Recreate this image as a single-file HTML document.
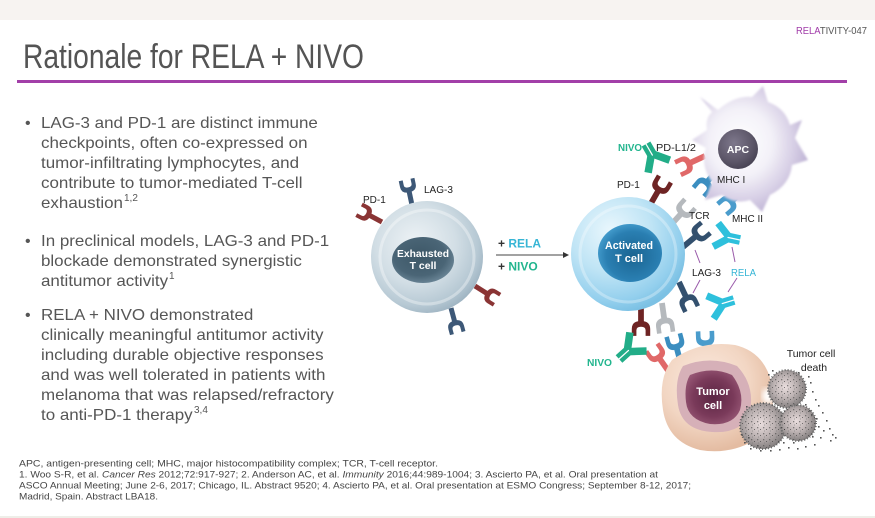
<!DOCTYPE html>
<html><head><meta charset="utf-8"><style>
html,body{margin:0;padding:0;background:#fff;}
svg{display:block;font-family:"Liberation Sans",sans-serif;}
</style></head><body>
<svg width="875" height="518" viewBox="0 0 875 518" xmlns="http://www.w3.org/2000/svg">
<defs>
<radialGradient id="exG" cx=".4" cy=".38" r=".65"><stop offset="0" stop-color="#eef3f6"/><stop offset=".55" stop-color="#d2dee5"/><stop offset=".85" stop-color="#b7c9d4"/><stop offset="1" stop-color="#a0b5c3"/></radialGradient>
<radialGradient id="exN" cx=".45" cy=".42" r=".6"><stop offset="0" stop-color="#3d5767"/><stop offset=".7" stop-color="#4a6576"/><stop offset="1" stop-color="#6a8596"/></radialGradient>
<radialGradient id="actG" cx=".35" cy=".3" r=".72"><stop offset="0" stop-color="#eaf7fd"/><stop offset=".5" stop-color="#bfe4f5"/><stop offset=".85" stop-color="#93cfed"/><stop offset="1" stop-color="#7cc1e4"/></radialGradient>
<radialGradient id="actN" cx=".55" cy=".55" r=".6"><stop offset="0" stop-color="#1a6491"/><stop offset=".7" stop-color="#2a7fb2"/><stop offset="1" stop-color="#48a1d1"/></radialGradient>
<radialGradient id="apcG" cx=".42" cy=".45" r=".6"><stop offset="0" stop-color="#ffffff"/><stop offset=".45" stop-color="#f3f1f8"/><stop offset=".75" stop-color="#d8d0e6"/><stop offset="1" stop-color="#bdb2d4"/></radialGradient>
<radialGradient id="apcN" cx=".4" cy=".35" r=".65"><stop offset="0" stop-color="#7e788c"/><stop offset=".7" stop-color="#5d5769"/><stop offset="1" stop-color="#4a4556"/></radialGradient>
<radialGradient id="tumG" cx=".4" cy=".35" r=".65"><stop offset="0" stop-color="#fbeadf"/><stop offset=".6" stop-color="#f2d6c3"/><stop offset="1" stop-color="#e4bca2"/></radialGradient>
<radialGradient id="tumN" cx=".5" cy=".5" r=".6"><stop offset="0" stop-color="#5c2644"/><stop offset=".6" stop-color="#7a3a5a"/><stop offset="1" stop-color="#9a5a78"/></radialGradient>
<radialGradient id="deadG" cx=".45" cy=".45" r=".6"><stop offset="0" stop-color="#eadede"/><stop offset=".5" stop-color="#bdb3b3"/><stop offset="1" stop-color="#7a7676"/></radialGradient>
<pattern id="spk" width="6" height="6" patternUnits="userSpaceOnUse"><rect x="1" y="1" width="1.3" height="1.3" fill="#444"/><rect x="4" y="3" width="1" height="1" fill="#333"/><rect x="2" y="4.5" width="1" height="1" fill="#777"/></pattern>
<filter id="soft"><feGaussianBlur stdDeviation="1"/></filter>
<filter id="blur3"><feGaussianBlur stdDeviation="3"/></filter>
<g id="rec">
<rect x="-2.5" y="-15" width="5" height="15"/>
<path d="M-8,-26 L-4,-26 L-4,-21 Q-4,-18 0,-18 Q4,-18 4,-21 L4,-26 L8,-26 L8,-20 Q8,-13 0,-13 Q-8,-13 -8,-20 Z"/>
</g>
<g id="ab">
<rect x="-4" y="-11" width="3.5" height="11"/>
<rect x="0.5" y="-11" width="3.5" height="11"/>
<rect x="-3" y="-14" width="6" height="14" transform="translate(-1,-10) rotate(-40)"/>
<rect x="-3" y="-14" width="6" height="14" transform="translate(1,-10) rotate(40)"/>
</g>
</defs>

<!-- background bands -->
<rect x="0" y="0" width="875" height="20" fill="#f7f3f1"/>
<rect x="0" y="516" width="875" height="2" fill="#eeeee8"/>

<!-- header -->
<text x="796" y="34" font-size="10" textLength="71" lengthAdjust="spacingAndGlyphs"><tspan fill="#a03aa8">RELA</tspan><tspan fill="#555">TIVITY-047</tspan></text>
<text x="23" y="68" font-size="34" fill="#545454" textLength="341" lengthAdjust="spacingAndGlyphs">Rationale for RELA + NIVO</text>
<rect x="17" y="80" width="830" height="3" fill="#a23fa8"/>

<!-- bullets -->
<g fill="#565656" font-size="16">
<text x="25" y="128">•</text>
<text x="25" y="246">•</text>
<text x="25" y="320">•</text>
</g>
<g fill="#565656" font-size="16" transform="translate(41,0) scale(1.06,1)">
<text x="0" y="128">LAG-3 and PD-1 are distinct immune</text>
<text x="0" y="148">checkpoints, often co-expressed on</text>
<text x="0" y="168">tumor-infiltrating lymphocytes, and</text>
<text x="0" y="188">contribute to tumor-mediated T-cell</text>
<text x="0" y="208">exhaustion</text>

<text x="0" y="246">In preclinical models, LAG-3 and PD-1</text>
<text x="0" y="266">blockade demonstrated synergistic</text>
<text x="0" y="286">antitumor activity</text>

<text x="0" y="320">RELA + NIVO demonstrated</text>
<text x="0" y="340">clinically meaningful antitumor activity</text>
<text x="0" y="360">including durable objective responses</text>
<text x="0" y="380">and was well tolerated in patients with</text>
<text x="0" y="400">melanoma that was relapsed/refractory</text>
<text x="0" y="420">to anti-PD-1 therapy</text>
</g>
<g fill="#565656" font-size="10">
<text x="124" y="201">1,2</text>
<text x="169" y="279">1</text>
<text x="194" y="413">3,4</text>
</g>

<!-- footnotes -->
<g fill="#444" font-size="9.5">
<text x="19" y="466.5" textLength="419" lengthAdjust="spacingAndGlyphs">APC, antigen-presenting cell; MHC, major histocompatibility complex; TCR, T-cell receptor.</text>
<text x="19" y="477.5" textLength="639" lengthAdjust="spacingAndGlyphs">1. Woo S-R, et al. <tspan font-style="italic">Cancer Res</tspan> 2012;72:917-927; 2. Anderson AC, et al. <tspan font-style="italic">Immunity</tspan> 2016;44:989-1004; 3. Ascierto PA, et al. Oral presentation at</text>
<text x="19" y="488.5" textLength="672" lengthAdjust="spacingAndGlyphs">ASCO Annual Meeting; June 2-6, 2017; Chicago, IL. Abstract 9520; 4. Ascierto PA, et al. Oral presentation at ESMO Congress; September 8-12, 2017;</text>
<text x="19" y="499.5" textLength="139" lengthAdjust="spacingAndGlyphs">Madrid, Spain. Abstract LBA18.</text>
</g>

<!-- ===== Exhausted T cell ===== -->
<use href="#rec" transform="translate(412,205) rotate(-12)" fill="#3d5877"/>
<use href="#rec" transform="translate(382,222) rotate(-62)" fill="#8a3434"/>
<use href="#rec" transform="translate(475,286) rotate(122)" fill="#8a3434"/>
<use href="#rec" transform="translate(451,308) rotate(165)" fill="#3d5877"/>
<circle cx="427" cy="257" r="56" fill="url(#exG)"/>
<circle cx="427" cy="257" r="47" fill="none" stroke="#ffffff" stroke-opacity=".35" stroke-width="3"/>
<ellipse cx="423" cy="260" rx="31" ry="23" fill="url(#exN)"/>
<g fill="#fff" font-weight="bold" font-size="10.5" text-anchor="middle">
<text x="423" y="257" textLength="52" lengthAdjust="spacingAndGlyphs">Exhausted</text>
<text x="423" y="269">T cell</text>
</g>
<g fill="#222" font-size="10">
<text x="363" y="203">PD-1</text>
<text x="424" y="193">LAG-3</text>
</g>

<!-- arrow -->
<line x1="496" y1="255" x2="563" y2="255" stroke="#444" stroke-width="1"/>
<polygon points="563,252 569,255 563,258" fill="#333"/>
<text x="498" y="247.5" font-weight="bold" font-size="12"><tspan fill="#333">+ </tspan><tspan fill="#36b5d5">RELA</tspan></text>
<text x="498" y="270.5" font-weight="bold" font-size="12"><tspan fill="#333">+ </tspan><tspan fill="#22b58e">NIVO</tspan></text>

<!-- ===== receptors (activated side) ===== -->
<use href="#rec" transform="translate(718,169) rotate(-140) scale(1.15)" fill="#3b8ec0"/>
<use href="#rec" transform="translate(745,190) rotate(-130) scale(1.15)" fill="#4a9ccc"/>
<use href="#rec" transform="translate(705,156) rotate(-115) scale(1.15)" fill="#e06868"/>
<use href="#rec" transform="translate(650,205) rotate(30) scale(1.15)" fill="#6e2424"/>
<use href="#rec" transform="translate(670,226) rotate(42) scale(1.15)" fill="#b5b9bd"/>
<use href="#ab" transform="translate(646,144) rotate(150) scale(1.25)" fill="#22ad88"/>
<use href="#rec" transform="translate(683,247) rotate(50) scale(1.15)" fill="#33506e"/>
<use href="#ab" transform="translate(740,240) rotate(-78) scale(1.2)" fill="#2ec0dc"/>

<!-- bottom cluster -->
<use href="#rec" transform="translate(681,364) rotate(-15) scale(1.15)" fill="#3b8ec0"/>
<use href="#rec" transform="translate(706,361) rotate(-2) scale(1.15)" fill="#4a9ccc"/>
<use href="#rec" transform="translate(669,372) rotate(-35) scale(1.15)" fill="#e06868"/>
<use href="#rec" transform="translate(679,282) rotate(155) scale(1.15)" fill="#33506e"/>
<use href="#ab" transform="translate(734,300) rotate(-107) scale(1.2)" fill="#2ec0dc"/>
<use href="#rec" transform="translate(662,303) rotate(172) scale(1.15)" fill="#b5b9bd"/>
<use href="#rec" transform="translate(641,306) rotate(180) scale(1.15)" fill="#6e2424"/>
<use href="#ab" transform="translate(619,359) rotate(48) scale(1.25)" fill="#22ad88"/>

<!-- ===== APC ===== -->
<path filter="url(#soft)" fill="url(#apcG)" d="M700,97 L718,110 Q735,95 752,97 L763,86 L768,102 Q785,108 790,125 L802,120 L795,138 L808,160 L792,165 Q790,185 770,195 L762,212 L750,200 Q735,205 722,195 L705,200 L712,182 Q700,165 706,148 L692,140 L707,130 Q705,118 712,112 Z"/>
<circle cx="738" cy="149" r="20" fill="url(#apcN)"/>
<text x="738" y="153" fill="#fff" font-weight="bold" font-size="10.5" text-anchor="middle">APC</text>

<!-- ===== Activated T cell ===== -->
<circle cx="628" cy="254" r="57" fill="url(#actG)"/>
<circle cx="628" cy="254" r="48" fill="none" stroke="#ffffff" stroke-opacity=".3" stroke-width="3"/>
<ellipse cx="630" cy="253" rx="32" ry="29" fill="url(#actN)"/>
<g fill="#fff" font-weight="bold" font-size="11" text-anchor="middle">
<text x="629" y="249" textLength="48" lengthAdjust="spacingAndGlyphs">Activated</text>
<text x="629" y="262">T cell</text>
</g>

<!-- purple link lines -->
<g stroke="#9a5aaa" stroke-width="1">
<line x1="695" y1="250" x2="700" y2="263"/>
<line x1="700" y1="280" x2="693" y2="293"/>
<line x1="732" y1="247" x2="735" y2="262"/>
<line x1="737" y1="278" x2="728" y2="292"/>
</g>

<!-- labels activated side -->
<g fill="#222" font-size="10">
<text x="656" y="151" textLength="40" lengthAdjust="spacingAndGlyphs">PD-L1/2</text>
<text x="617" y="188">PD-1</text>
<text x="717" y="183">MHC I</text>
<text x="689" y="219">TCR</text>
<text x="732" y="222" textLength="31" lengthAdjust="spacingAndGlyphs">MHC II</text>
<text x="692" y="276" textLength="29" lengthAdjust="spacingAndGlyphs">LAG-3</text>
</g>
<text x="618" y="151" fill="#22b58e" font-size="10" font-weight="bold" textLength="24" lengthAdjust="spacingAndGlyphs">NIVO</text>
<text x="731" y="276" fill="#36b5d5" font-size="10.5" textLength="25" lengthAdjust="spacingAndGlyphs">RELA</text>
<text x="587" y="366" fill="#22b58e" font-size="10" font-weight="bold" textLength="25" lengthAdjust="spacingAndGlyphs">NIVO</text>

<!-- ===== Tumor cell ===== -->
<path fill="url(#tumG)" d="M672,360 Q700,340 735,345 Q765,352 772,385 Q778,420 755,440 Q730,455 700,450 Q668,442 663,410 Q658,378 672,360 Z"/>
<path fill="#d6b0b8" d="M683,366 Q710,355 737,366 Q755,385 750,411 Q743,434 712,432 Q682,430 678,405 Q674,380 683,366 Z"/>
<path fill="url(#tumN)" d="M690,375 Q712,366 732,375 Q745,392 740,410 Q733,426 710,424 Q688,420 686,402 Q684,385 690,375 Z"/>
<g fill="#fff" font-weight="bold" font-size="11" text-anchor="middle">
<text x="713" y="395">Tumor</text>
<text x="713" y="409">cell</text>
</g>

<!-- ===== dead tumor cells ===== -->
<ellipse cx="768" cy="396" rx="6" ry="8" fill="#fff" filter="url(#blur3)"/>
<g stroke="#666" stroke-width="2" stroke-dasharray="1 2">
<circle cx="787" cy="389" r="19" fill="url(#deadG)"/>
<circle cx="763" cy="426" r="23" fill="url(#deadG)"/>
<circle cx="798" cy="423" r="18" fill="url(#deadG)"/>
</g>
<circle cx="787" cy="389" r="19" fill="url(#spk)" opacity=".6"/>
<circle cx="763" cy="426" r="23" fill="url(#spk)" opacity=".6"/>
<circle cx="798" cy="423" r="18" fill="url(#spk)" opacity=".6"/>
<g fill="#555">
<rect x="808" y="376" width="1.6" height="1.6"/><rect x="810" y="382" width="1.6" height="1.6"/><rect x="812" y="391" width="1.6" height="1.6"/><rect x="815" y="399" width="1.6" height="1.6"/><rect x="818" y="405" width="1.6" height="1.6"/><rect x="822" y="412" width="1.6" height="1.6"/><rect x="826" y="420" width="1.6" height="1.6"/><rect x="829" y="428" width="1.6" height="1.6"/><rect x="832" y="434" width="1.6" height="1.6"/><rect x="820" y="437" width="1.6" height="1.6"/><rect x="814" y="444" width="1.6" height="1.6"/><rect x="805" y="446" width="1.6" height="1.6"/><rect x="797" y="448" width="1.6" height="1.6"/><rect x="788" y="447" width="1.6" height="1.6"/><rect x="779" y="449" width="1.6" height="1.6"/><rect x="770" y="450" width="1.6" height="1.6"/><rect x="760" y="450" width="1.6" height="1.6"/><rect x="750" y="448" width="1.6" height="1.6"/><rect x="744" y="442" width="1.6" height="1.6"/><rect x="741" y="434" width="1.6" height="1.6"/><rect x="742" y="416" width="1.6" height="1.6"/><rect x="746" y="406" width="1.6" height="1.6"/><rect x="805" y="404" width="1.6" height="1.6"/><rect x="809" y="410" width="1.6" height="1.6"/><rect x="768" y="374" width="1.6" height="1.6"/><rect x="772" y="370" width="1.6" height="1.6"/><rect x="798" y="372" width="1.6" height="1.6"/><rect x="823" y="430" width="1.6" height="1.6"/><rect x="818" y="426" width="1.6" height="1.6"/><rect x="830" y="440" width="1.6" height="1.6"/><rect x="835" y="437" width="1.6" height="1.6"/><rect x="812" y="436" width="1.6" height="1.6"/><rect x="793" y="442" width="1.6" height="1.6"/><rect x="783" y="442" width="1.6" height="1.6"/><rect x="757" y="445" width="1.6" height="1.6"/><rect x="748" y="437" width="1.6" height="1.6"/><rect x="811" y="414" width="1.6" height="1.6"/><rect x="816" y="418" width="1.6" height="1.6"/>
</g>
<g fill="#222" font-size="10.5" text-anchor="middle">
<text x="811" y="357">Tumor cell</text>
<text x="814" y="371">death</text>
</g>
</svg>
</body></html>
